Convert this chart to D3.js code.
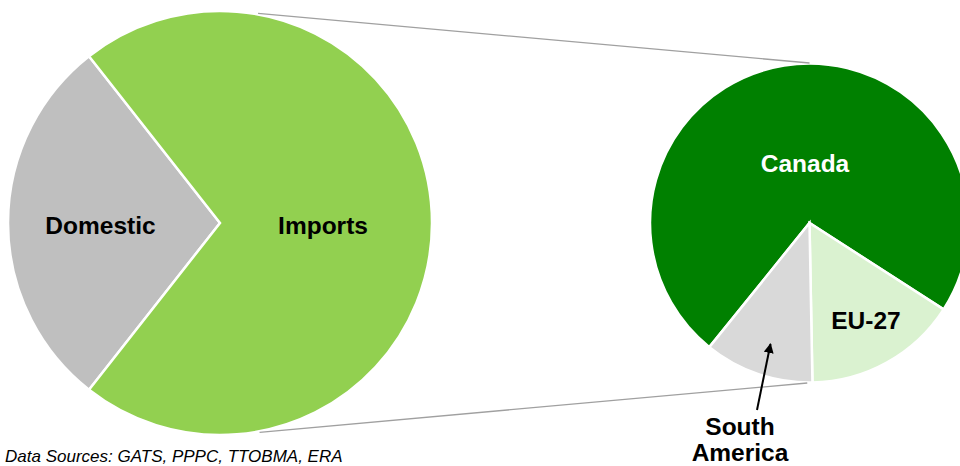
<!DOCTYPE html>
<html><head><meta charset="utf-8">
<script src="https://cdn.jsdelivr.net/npm/d3@7"></script>
<style>html,body{margin:0;padding:0;background:#fff;}svg{display:block;}</style>
</head><body>
<svg id="c" width="960" height="466"></svg>
<script>
// Data
const mainCategories = ["Domestic", "Imports"];
const mainValues = [28.8, 71.2];
const subCategories = ["Canada", "EU-27", "South America"];
const subValues = [73.3, 15.6, 11.1];
const sourceText = "Data Sources: GATS, PPPC, TTOBMA, ERA";

const svg = d3.select("#c");
const deg = Math.PI / 180;
const font = "Liberation Sans, Arial, sans-serif";

// Main pie
const main = { cx: 220, cy: 223, r: 212 };
const mainColors = d3.scaleOrdinal().domain(mainCategories).range(["#BFBFBF", "#92D050"]);
const mainPie = d3.pie().sort(null).value(d => d.v)
  .startAngle(218.16 * deg).endAngle(218.16 * deg + 2 * Math.PI);
const mainArcs = mainPie(mainCategories.map((c, i) => ({ c, v: mainValues[i] })));
const arcMain = d3.arc().innerRadius(0).outerRadius(main.r);
const gMain = svg.append("g").attr("transform", `translate(${main.cx},${main.cy})`);
gMain.selectAll("path").data(mainArcs).join("path")
  .attr("d", arcMain).attr("fill", d => mainColors(d.data.c))
  .attr("stroke", "#fff").attr("stroke-width", 2.5).attr("stroke-linejoin", "miter");

// Sub pie
const sub = { cx: 809.5, cy: 223, r: 159.5 };
const subColors = d3.scaleOrdinal().domain(subCategories).range(["#008000", "#DAF2D0", "#D9D9D9"]);
const subPie = d3.pie().sort(null).value(d => d.v)
  .startAngle(218.9 * deg).endAngle(218.9 * deg + 2 * Math.PI);
const subArcs = subPie(subCategories.map((c, i) => ({ c, v: subValues[i] })));
const arcSub = d3.arc().innerRadius(0).outerRadius(sub.r);
const gSub = svg.append("g").attr("transform", `translate(${sub.cx},${sub.cy})`);
gSub.selectAll("path").data(subArcs).join("path")
  .attr("d", arcSub).attr("fill", d => subColors(d.data.c))
  .attr("stroke", "#fff").attr("stroke-width", 2.5).attr("stroke-linejoin", "miter");

// Connector lines
function pt(p, a, r) { return [p.cx + (r || p.r) * Math.sin(a * deg), p.cy - (r || p.r) * Math.cos(a * deg)]; }
const connectors = [[pt(main, 10.3, 213), pt(sub, 0, 160)], [pt(main, 169.3, 213), pt(sub, 180.8, 160)]];
svg.selectAll("line.conn").data(connectors).join("line").attr("class", "conn")
  .attr("x1", d => d[0][0]).attr("y1", d => d[0][1])
  .attr("x2", d => d[1][0]).attr("y2", d => d[1][1])
  .attr("stroke", "#A0A0A0").attr("stroke-width", 1.3);

// Labels
const lab = (x, y, t, fill) => svg.append("text").attr("x", x).attr("y", y)
  .attr("text-anchor", "middle").attr("font-family", font).attr("font-weight", "bold")
  .attr("font-size", 24.5).attr("fill", fill || "#000").text(t);
lab(100.5, 234, mainCategories[0]);
lab(323, 234, mainCategories[1]);
lab(805, 172, subCategories[0], "#fff");
lab(866, 329, subCategories[1]);
lab(740, 435, "South");
lab(740, 461, "America");

// Arrow
svg.append("defs").append("marker").attr("id", "ah").attr("viewBox", "0 0 10 10")
  .attr("refX", 9).attr("refY", 5).attr("markerWidth", 5).attr("markerHeight", 5)
  .attr("orient", "auto").append("path").attr("d", "M0,0L10,5L0,10z").attr("fill", "#000");
svg.append("line").attr("x1", 757).attr("y1", 410).attr("x2", 770.5).attr("y2", 344)
  .attr("stroke", "#000").attr("stroke-width", 2).attr("marker-end", "url(#ah)");

// Source
svg.append("text").attr("x", 5).attr("y", 462).attr("font-family", font)
  .attr("font-style", "italic").attr("font-size", 17).attr("fill", "#000").text(sourceText);
</script>
</body></html>
